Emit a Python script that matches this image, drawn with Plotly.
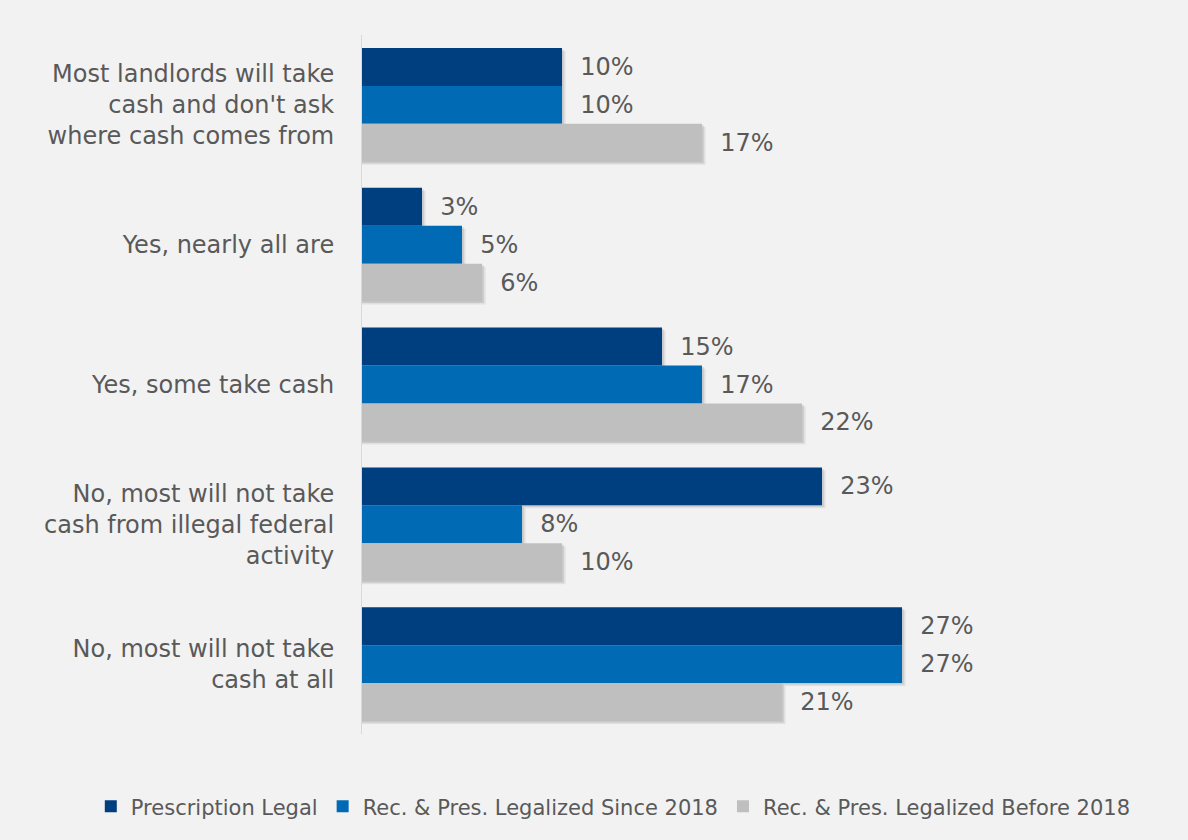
import plotly.graph_objects as go

categories = [
    "Most landlords will take<br>cash and don't ask<br>where cash comes from",
    "Yes, nearly all are",
    "Yes, some take cash",
    "No, most will not take<br>cash from illegal federal<br>activity",
    "No, most will not take<br>cash at all",
]
series_names = ["Prescription Legal", "Rec. & Pres. Legalized Since 2018", "Rec. & Pres. Legalized Before 2018"]
prescription = [10, 3, 15, 23, 27]
since_2018 = [10, 5, 17, 8, 27]
before_2018 = [17, 6, 22, 10, 21]
colors = ["#003F7F", "#006AB4", "#BFBFBF"]

FONT = "DejaVu Sans"
bar_w = 38 / 140
offsets = [-57 / 140, -19 / 140, 19 / 140]
sh_dx = 0.18   # shadow shift in % units (~3.5px)
sh_dy = 3 / 140

fig = go.Figure()
# soft drop shadows
for vals, off in zip([prescription, since_2018, before_2018], offsets):
    for k, a in [(1.0, 0.07), (0.5, 0.10)]:
        fig.add_trace(go.Bar(
            y=categories, x=[v + sh_dx * k for v in vals], orientation="h",
            width=bar_w, offset=off + sh_dy * k,
            marker=dict(color=f"rgba(0,0,0,{a})", line=dict(width=0)),
            showlegend=False, hoverinfo="skip",
        ))
for name, vals, col, off in zip(series_names, [prescription, since_2018, before_2018], colors, offsets):
    fig.add_trace(go.Bar(
        y=categories, x=vals, name=name, orientation="h",
        width=bar_w, offset=off,
        marker=dict(color=col, line=dict(width=0)),
        text=[f"  {v}%" for v in vals], textposition="outside",
        textfont=dict(size=24, color="#595959", family=FONT),
        cliponaxis=False,
    ))

fig.update_layout(
    width=1188, height=840,
    paper_bgcolor="#F2F2F2", plot_bgcolor="#F2F2F2",
    barmode="overlay",
    margin=dict(l=362, r=26, t=35, b=106),
    font=dict(family=FONT, color="#595959"),
    showlegend=True,
    legend=dict(orientation="h", x=-0.339, xanchor="left", y=-0.104, yanchor="middle",
                font=dict(size=21, color="#595959", family=FONT), traceorder="normal",
                itemwidth=30, bgcolor="rgba(0,0,0,0)"),
    xaxis=dict(range=[0, 40], showgrid=False, zeroline=False, showticklabels=False,
               showline=False, fixedrange=True),
    yaxis=dict(autorange="reversed", showgrid=False, zeroline=False,
               showline=True, linecolor="#D9D9D9", linewidth=1,
               tickfont=dict(size=24, color="#595959", family=FONT), ticks="",
               ticklabelstandoff=22),
)
fig.write_html("out.html", config={"displayModeBar": False},
               post_script="document.body.style.margin='0';document.body.style.overflow='hidden';document.body.style.background='#F2F2F2';")
